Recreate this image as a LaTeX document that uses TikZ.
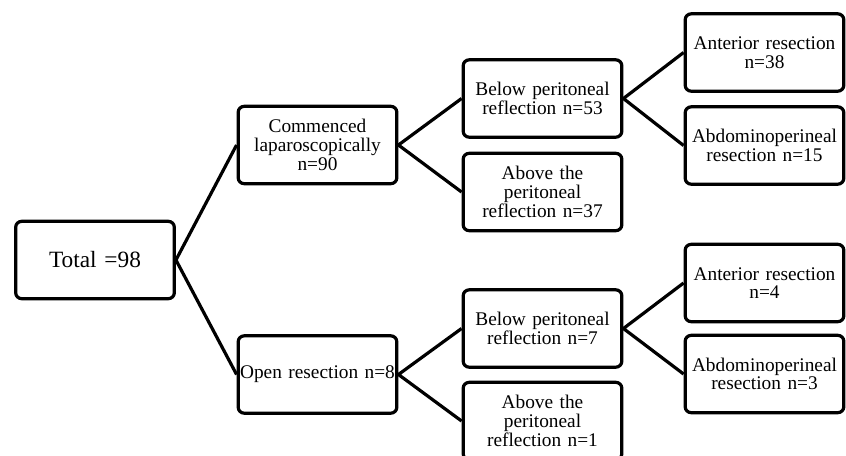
\documentclass[tikz,border=0pt]{standalone}
\usepackage{fontspec}
\setmainfont{Liberation Serif}

\begin{document}
\begin{tikzpicture}[x=0.75pt,y=-0.75pt,
    box/.style={draw,line width=2.4pt,rounded corners=4.5pt,
        minimum width=119pt,minimum height=58pt,text width=117pt,
        align=center,inner sep=1pt,font=\fontsize{14.5}{14}\selectfont},
    link/.style={line width=2.4pt}]
\useasboundingbox (0,0) rectangle (846,455);
\path
    (95,260) node [box,font=\fontsize{17.5}{20}\selectfont] (total) {Total =98}
    (317.5,145) node [box] (lap) {Commenced\\laparoscopically\\n=90}
    (317.5,374.5) node [box] (open) {Open resection n=8}
    (542.5,98.5) node [box] (lapbelow) {Below peritoneal\\reflection n=53}
    (542.5,192) node [box] (lapabove) {Above the\\peritoneal\\reflection n=37}
    (542.5,328.5) node [box] (openbelow) {Below peritoneal\\reflection n=7}
    (542.5,421) node [box] (openabove) {Above the\\peritoneal\\reflection n=1}
    (764.5,52.5) node [box] (lapar) {Anterior resection\\n=38}
    (764.5,145.5) node [box] (lapapr) {Abdominoperineal\\resection n=15}
    (764.5,283) node [box] (openar) {Anterior resection\\n=4}
    (764.5,374) node [box] (openapr) {Abdominoperineal\\resection n=3};
\draw [link] (lap.west) -- (total.east) -- (open.west);
\draw [link] (lapbelow.west) -- (lap.east) -- (lapabove.west);
\draw [link] (openbelow.west) -- (open.east) -- (openabove.west);
\draw [link] (lapar.west) -- (lapbelow.east) -- (lapapr.west);
\draw [link] (openar.west) -- (openbelow.east) -- (openapr.west);
\end{tikzpicture}
\end{document}
